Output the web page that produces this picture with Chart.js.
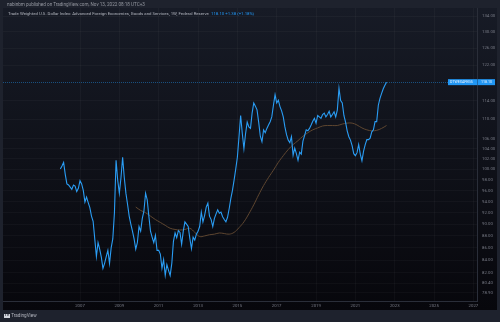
<!DOCTYPE html>
<html><head><meta charset="utf-8">
<script src="https://cdn.jsdelivr.net/npm/chart.js@4"></script>
<style>
html,body{margin:0;padding:0;background:#1e222d;width:500px;height:322px;overflow:hidden}
#wrap{position:relative;width:500px;height:322px}
canvas{position:absolute;left:0;top:0}
.t{position:absolute;white-space:nowrap;font-family:Roboto,"Liberation Sans",sans-serif;line-height:1}
</style></head><body>
<div id="wrap">
<canvas id="c" width="500" height="322"></canvas>
<div class="t" style="left:7px;top:2.6px;font-size:4.6px;color:#9598a1">nabinbm published on TradingView.com, Nov 13, 2022 08:18 UTC+3</div>
<div class="t" style="left:8px;top:12.4px;font-size:4.3px;color:#b2b5be">Trade Weighted U.S. Dollar Index: Advanced Foreign Economies, Goods and Services, 1W, Federal Reserve&nbsp; <span style="color:#2196f3">118.10 +1.38 (+1.18%)</span></div>
<div class="t" style="left:4px;top:314px;font-size:4.6px;color:#b2b5be"><b style="display:inline-block;background:#d1d4dc;color:#1e222d;font-size:3.6px;padding:0 0.6px;margin-right:1.5px;vertical-align:middle">TV</b>TradingView</div>
</div>
<script>
// ---- data ----
const startYear = 2006;            // first monthly point: Jan 2006
const usdIndex = [
  100.0,100.6,101.3, 99.0, 97.2, 97.0, 96.6, 96.2, 97.0, 96.8, 95.8, 96.4, // 2006
   97.8, 97.2, 96.0, 93.9, 94.8, 93.8, 92.9, 91.4, 90.5, 87.5, 84.6, 86.9, // 2007
   85.8, 84.5, 82.7, 83.5, 84.6, 85.6, 83.5, 86.0, 87.5, 92.0,101.7, 97.9, // 2008
   95.5, 98.4,102.3, 98.4, 95.5, 93.5, 91.4, 90.0, 88.8, 87.5, 85.8, 86.9, // 2009
   89.6, 88.8, 91.0, 92.3, 95.5, 94.3, 91.4, 88.8, 87.8, 86.9, 88.1, 85.6, // 2010
   85.6, 85.0, 82.7, 84.1, 81.6, 83.3, 82.4, 81.6, 83.5, 87.1, 88.5, 87.7, // 2011
   88.9, 88.6, 86.6, 88.8, 90.4, 90.0, 89.6, 87.6, 85.9, 87.8, 87.3, 88.3, // 2012
   88.8, 89.6, 92.1, 90.4, 91.5, 93.0, 93.7, 91.4, 90.8, 89.6, 91.0, 91.8, // 2013
   92.5, 91.9, 92.1, 91.3, 90.8, 90.4, 91.2, 92.7, 94.5, 96.0, 97.9,100.0, // 2014
  102.3,106.4,110.8,107.1,104.0,107.0,109.4,108.4,108.1,111.3,113.5,112.8, // 2015
  112.0,109.4,106.5,105.4,107.8,107.2,108.1,108.8,109.5,110.5,113.0,115.3, // 2016
  113.5,114.1,112.7,111.8,110.5,108.4,106.8,105.7,105.2,106.4,102.7,104.1, // 2017
  103.0,101.7,103.3,102.9,105.5,106.6,107.8,107.6,108.1,108.8,109.6,110.2, // 2018
  109.2,110.8,110.5,110.2,111.0,111.3,110.5,111.0,111.7,110.5,111.0,111.6, // 2019
  110.5,112.0,116.7,114.0,113.5,110.8,109.4,107.6,106.4,105.7,104.6,103.0, // 2020
  102.6,103.2,104.8,102.9,101.6,103.5,104.8,105.8,105.8,106.1,107.4,107.8, // 2021
  109.5,109.5,113.0,114.5,115.6,116.6,117.4,118.1                           // 2022
];
const maDates = ["2009-11","2010-02","2010-05","2010-08","2010-11","2011-02","2011-05","2011-08","2011-11",
  "2012-02","2012-05","2012-08","2012-11","2013-02","2013-05","2013-08","2013-11","2014-02","2014-05","2014-08",
  "2014-11","2015-02","2015-05","2015-08","2015-11","2016-02","2016-05","2016-08","2016-11","2017-02","2017-05",
  "2017-08","2017-11","2018-02","2018-05","2018-08","2018-11","2019-02","2019-05","2019-08","2019-11","2020-02",
  "2020-05","2020-08","2020-11","2021-02","2021-05","2021-08","2021-11","2022-02","2022-05","2022-08"];
const maValues = [93.0,92.4,92.0,91.4,90.8,90.3,89.8,89.3,89.1,
  89.0,89.1,89.3,88.6,87.9,88.0,88.2,88.3,88.5,88.4,88.3,
  88.6,89.4,90.4,91.8,93.4,95.2,96.9,98.4,99.8,101.3,102.6,
  103.8,104.8,105.6,106.5,107.2,107.8,108.2,108.6,108.7,108.7,108.7,
  109.0,109.2,109.2,108.8,108.2,107.8,107.6,107.7,108.1,108.7];
const xTickYears = [2007,2009,2011,2013,2015,2017,2019,2021,2023,2025,2027];
const yTickValues = [134,130,126,122,114,110,106,104,102,100,98,96,94,92,90,88,86,84,82,80.4,78.9];
const symbolName = "DTWEXAFEGS";

// ---- build points ----
const toYear = s => { const [y,m] = s.split('-').map(Number); return y + (m-1)/12; };
const usdPoints = usdIndex.map((v,i)=>({x: startYear + i/12, y: v}));
const maPoints = maDates.map((d,i)=>({x: toYear(d), y: maValues[i]}));
const lastValue = usdIndex[usdIndex.length-1];

const bgPlugin = {
  id:'bg',
  beforeDraw(chart){
    const ctx = chart.ctx; ctx.save();
    ctx.fillStyle = '#1e222d'; ctx.fillRect(0,0,500,322);
    const g = ctx.createLinearGradient(0,8,0,310);
    g.addColorStop(0,'#171b26'); g.addColorStop(1,'#07070c');
    ctx.fillStyle = g; ctx.fillRect(3,8,494,302);
    ctx.restore();
  },
  beforeDatasetsDraw(chart){
    const ctx = chart.ctx, a = chart.chartArea;
    const y = Math.round(chart.scales.y.getPixelForValue(lastValue)) + 0.5;
    ctx.save(); ctx.strokeStyle = 'rgba(33,150,243,0.45)'; ctx.lineWidth = 1;
    ctx.setLineDash([1,1]);
    ctx.beginPath(); ctx.moveTo(a.left,y); ctx.lineTo(a.right,y); ctx.stroke();
    ctx.restore();
  },
  afterDraw(chart){
    const ctx = chart.ctx, a = chart.chartArea;
    const y = chart.scales.y.getPixelForValue(lastValue);
    ctx.save();
    ctx.fillStyle = '#2196f3';
    ctx.fillRect(448, y-3, 47, 6);
    ctx.strokeStyle = 'rgba(19,23,34,0.6)'; ctx.lineWidth = 0.6;
    ctx.beginPath(); ctx.moveTo(a.right+0.5, y-3); ctx.lineTo(a.right+0.5, y+3); ctx.stroke();
    ctx.fillStyle = '#e8f2fd'; ctx.font = '3.6px Roboto, sans-serif'; ctx.textBaseline = 'middle';
    ctx.textAlign = 'left';
    ctx.fillText(symbolName, 450, y);
    ctx.fillText(lastValue.toFixed(2), 481, y);
    ctx.restore();
  }
};

new Chart(document.getElementById('c'), {
  type: 'line',
  data: { datasets: [
    { label: 'USD index', data: usdPoints, borderColor: '#2a9df4', borderWidth: 1.1,
      pointRadius: 0, tension: 0, fill: false },
    { label: 'MA', data: maPoints, borderColor: '#5e4630', borderWidth: 1,
      pointRadius: 0, tension: 0.4, fill: false }
  ]},
  options: {
    responsive: false, animation: false, devicePixelRatio: 1,
    layout: { padding: { left: 3, top: 8, right: 3, bottom: 12 } },
    plugins: { legend: { display: false }, tooltip: { enabled: false } },
    scales: {
      x: { type: 'linear', min: 2003.085, max: 2027.183, bounds: 'data',
        afterBuildTicks: s => { s.ticks = xTickYears.map(v => ({ value: v })); },
        ticks: { color: '#787b86', font: { size: 4.3, family: 'Roboto' }, padding: 2.5,
          maxRotation: 0, autoSkip: false, callback: v => String(v) },
        grid: { color: 'rgba(255,255,255,0.03)', drawTicks: false },
        border: { color: '#2a2e39' },
        afterFit: s => { s.height = 9; } },
      y: { type: 'logarithmic', position: 'right', min: 77.7, max: 136.1, bounds: 'data',
        afterBuildTicks: s => { s.ticks = yTickValues.map(v => ({ value: v })); },
        ticks: { color: '#787b86', font: { size: 4.3, family: 'Roboto' }, padding: 5,
          autoSkip: false, callback: v => Number(v).toFixed(2) },
        grid: { color: 'rgba(255,255,255,0.03)', drawTicks: false },
        border: { color: '#2a2e39' },
        afterFit: s => { s.width = 20; } }
    }
  },
  plugins: [bgPlugin]
});
</script>
</body></html>
